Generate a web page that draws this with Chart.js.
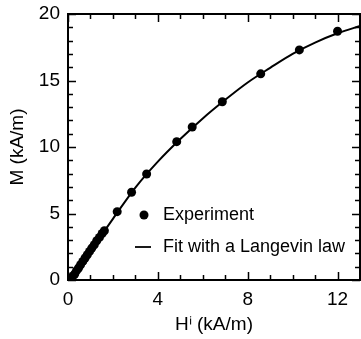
<!DOCTYPE html>
<html>
<head>
<meta charset="utf-8">
<script src="https://cdn.jsdelivr.net/npm/chart.js@4/dist/chart.umd.min.js"></script>
<style>
  html, body { margin: 0; padding: 0; background: #fff; }
  #wrap { width: 361px; height: 339px; }
</style>
</head>
<body>
<div id="wrap"><canvas id="grafico" width="361" height="339"></canvas></div>
<script>
// datos
const expH = [0.15, 0.22, 0.3, 0.38, 0.47, 0.56, 0.66, 0.76, 0.86, 0.96, 1.06, 1.17, 1.28, 1.4, 1.52, 1.62,
  2.19, 2.83, 3.5, 4.84, 5.53, 6.87, 8.58, 10.3, 12.0]
const expM = [0.1, 0.3, 0.45, 0.7, 0.9, 1.15, 1.4, 1.65, 1.9, 2.15, 2.4, 2.65, 2.95, 3.2, 3.5, 3.7,
  5.14, 6.6, 7.97, 10.4, 11.5, 13.4, 15.5, 17.3, 18.7]

const fitH = [0.1, 0.5, 1, 2, 3, 4, 5, 6, 7, 8, 9, 10, 11, 12, 13]
const fitM = [0, 1.0, 2.2, 4.6, 6.95, 8.9, 10.6, 12.15, 13.55, 14.85, 15.95, 17.0, 17.85, 18.55, 19.1]

const xTickLabels = [0, 4, 8, 12]
const yTickLabels = [0, 5, 10, 15, 20]

const leyenda = ['Experiment', 'Fit with a Langevin law']

const fuente = "'Liberation Sans', Arial, sans-serif"

const toXY = (xs, ys) => xs.map((x, i) => ({ x: x, y: ys[i] }))

// ticks hacia adentro en los 4 lados + marco + leyenda
const marcoPlugin = {
  id: 'marco',
  afterDraw(chart) {
    const ctx = chart.ctx
    const a = chart.chartArea
    const sx = chart.scales.x
    const sy = chart.scales.y
    ctx.save()
    ctx.strokeStyle = '#000'
    ctx.lineWidth = 1.5
    for (let v = sx.min; v <= sx.max; v++) {
      const px = Math.round(sx.getPixelForValue(v)) + 0.5
      const len = xTickLabels.includes(v) ? 8 : 5
      ctx.beginPath()
      ctx.moveTo(px, a.bottom); ctx.lineTo(px, a.bottom - len)
      ctx.moveTo(px, a.top); ctx.lineTo(px, a.top + len)
      ctx.stroke()
    }
    for (let v = sy.min; v <= sy.max; v++) {
      const py = Math.round(sy.getPixelForValue(v)) + 0.5
      const len = yTickLabels.includes(v) ? 8 : 5
      ctx.beginPath()
      ctx.moveTo(a.left, py); ctx.lineTo(a.left + len, py)
      ctx.moveTo(a.right, py); ctx.lineTo(a.right - len, py)
      ctx.stroke()
    }
    ctx.lineWidth = 2
    ctx.strokeRect(a.left, a.top, a.right - a.left, a.bottom - a.top)

    // leyenda
    ctx.fillStyle = '#000'
    ctx.font = '18px ' + fuente
    ctx.textBaseline = 'middle'
    ctx.textAlign = 'left'
    ctx.beginPath()
    ctx.arc(144, 215, 4.5, 0, Math.PI * 2)
    ctx.fill()
    ctx.fillText(leyenda[0], 163, 215)
    ctx.lineWidth = 1.8
    ctx.beginPath()
    ctx.moveTo(135, 247); ctx.lineTo(151, 247)
    ctx.stroke()
    ctx.fillText(leyenda[1], 163, 247)
    ctx.restore()
  }
}

const config = {
  type: 'scatter',
  data: {
    datasets: [
      {
        label: leyenda[1],
        data: toXY(fitH, fitM),
        showLine: true,
        borderColor: '#000',
        borderWidth: 2,
        pointRadius: 0,
        cubicInterpolationMode: 'monotone',
        fill: false
      },
      {
        label: leyenda[0],
        data: toXY(expH, expM),
        backgroundColor: '#000',
        borderColor: '#000',
        pointRadius: 4.5,
        pointBorderWidth: 0
      }
    ]
  },
  options: {
    responsive: false,
    animation: false,
    events: [],
    layout: { autoPadding: false, padding: { top: 14, right: 1, left: 0, bottom: 0 } },
    plugins: {
      legend: { display: false },
      tooltip: { enabled: false }
    },
    scales: {
      x: {
        type: 'linear',
        min: 0,
        max: 13,
        afterFit: (s) => { s.height = 59; s.paddingLeft = 0; s.paddingRight = 0 },
        grid: { display: false, drawTicks: false },
        border: { display: false },
        ticks: {
          stepSize: 1,
          autoSkip: false,
          maxRotation: 0,
          padding: 8,
          color: '#000',
          font: { size: 19, family: fuente },
          callback: (v) => xTickLabels.includes(v) ? String(v) : ''
        },
        title: {
          display: true,
          text: 'Hⁱ (kA/m)',
          color: '#000',
          font: { size: 19, family: fuente },
          padding: { top: 0, bottom: 3 }
        }
      },
      y: {
        type: 'linear',
        min: 0,
        max: 20,
        afterFit: (s) => { s.width = 68; s.paddingTop = 0; s.paddingBottom = 0 },
        grid: { display: false, drawTicks: false },
        border: { display: false },
        ticks: {
          stepSize: 1,
          autoSkip: false,
          padding: 8,
          color: '#000',
          font: { size: 19, family: fuente },
          callback: (v) => yTickLabels.includes(v) ? String(v) : ''
        },
        title: {
          display: true,
          text: 'M (kA/m)',
          color: '#000',
          font: { size: 19, family: fuente },
          padding: { top: 6, bottom: 0 }
        }
      }
    }
  },
  plugins: [marcoPlugin]
}

const myChart = new Chart(document.getElementById('grafico'), config)
</script>
</body>
</html>
